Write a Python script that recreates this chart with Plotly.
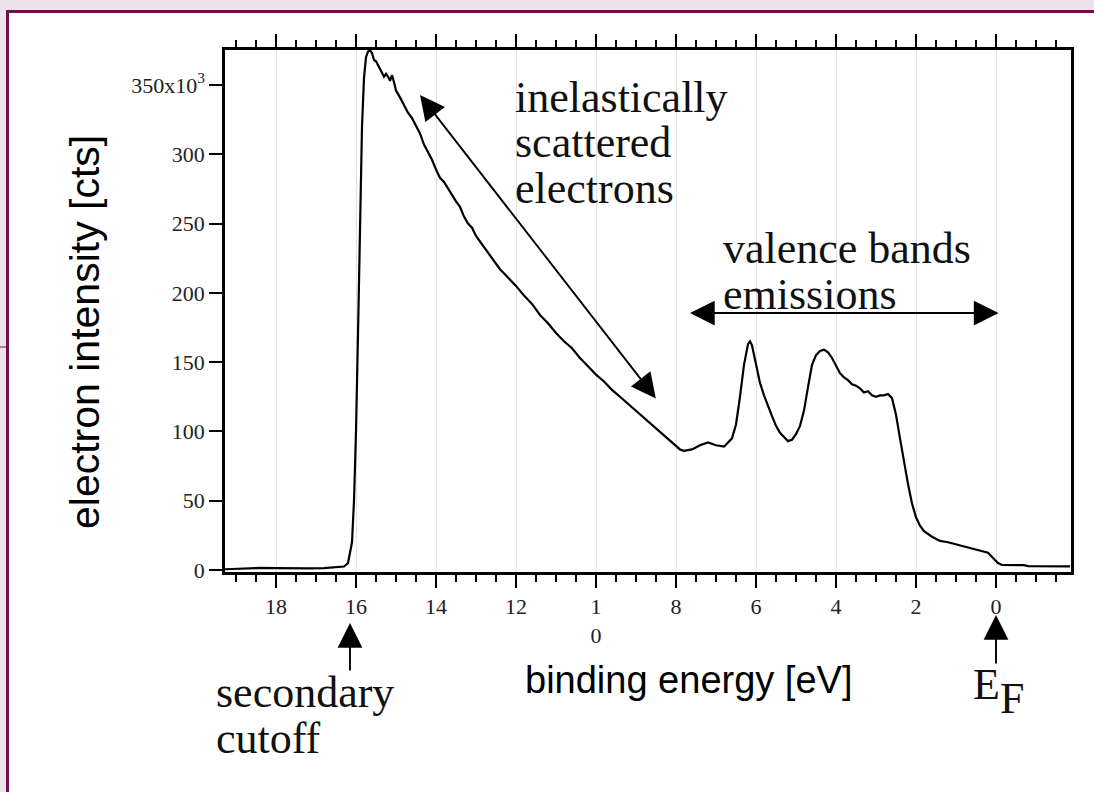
import plotly.graph_objects as go

# ---- data: binding energy [eV] and electron intensity [x10^3 cts] ----
energy = [19.3, 19.0, 18.7, 18.4, 18.0, 17.6, 17.2, 16.8, 16.5, 16.3, 16.2, 16.1, 16.05, 16.0,
          15.95, 15.9, 15.85, 15.8, 15.75, 15.7, 15.65, 15.6, 15.55, 15.5, 15.45, 15.4, 15.35,
          15.3, 15.25, 15.2, 15.15, 15.1, 15.05, 15.0, 14.9, 14.8, 14.7, 14.6, 14.5, 14.4, 14.3,
          14.2, 14.1, 14.0, 13.9, 13.8, 13.7, 13.6, 13.5, 13.4, 13.3, 13.2, 13.1, 13.0, 12.8,
          12.6, 12.4, 12.2, 12.0, 11.8, 11.6, 11.4, 11.2, 11.0, 10.8, 10.6, 10.4, 10.2, 10.0,
          9.8, 9.6, 9.4, 9.2, 9.0, 8.8, 8.6, 8.4, 8.2, 8.0, 7.9, 7.8, 7.6, 7.4, 7.2, 7.0, 6.8,
          6.6, 6.5, 6.4, 6.3, 6.2, 6.15, 6.1, 6.0, 5.9, 5.8, 5.7, 5.6, 5.5, 5.4, 5.3, 5.2, 5.1,
          5.0, 4.9, 4.8, 4.7, 4.6, 4.5, 4.4, 4.3, 4.2, 4.1, 4.0, 3.9, 3.8, 3.7, 3.6, 3.5, 3.4,
          3.3, 3.2, 3.1, 3.0, 2.9, 2.8, 2.7, 2.6, 2.5, 2.4, 2.3, 2.2, 2.1, 2.0, 1.9, 1.8, 1.6,
          1.4, 1.2, 1.0, 0.8, 0.6, 0.4, 0.2, 0.05, -0.05, -0.15, -0.4, -0.7, -0.8, -1.2, -1.6,
          -1.85]
intensity = [0.5, 0.8, 1.2, 1.5, 1.3, 1.0, 1.2, 1.4, 1.8, 2.5, 5, 20, 50, 100,
             170, 250, 320, 355, 370, 374, 375, 373, 368, 367, 364, 362, 359,
             356, 358, 356, 353, 357, 352, 346, 341, 335, 330, 326, 320, 315, 307,
             302, 296, 289, 283, 280, 275, 271, 266, 262, 255, 250, 247, 241, 233,
             225, 217, 211, 205, 198, 192, 184, 178, 171, 165, 160, 153, 147, 141,
             136, 130, 125, 120, 115, 110, 105, 100, 95, 90, 87, 86, 87, 90, 92, 90, 89,
             95, 105, 125, 148, 163, 165, 162, 148, 135, 126, 118, 111, 104, 99, 96, 93, 94,
             98, 104, 115, 132, 148, 155, 158, 159, 157, 153, 147, 142, 139, 137, 134, 133, 131,
             128, 129, 126, 125, 126, 126, 127, 124, 112, 95, 78, 62, 48, 38, 32, 28, 24,
             21, 20, 18.5, 17, 16, 14.5, 12.5, 8, 5, 3.6, 3.5, 3.5, 2.8, 2.7, 2.6,
             2.6]

x_tickvals = [18, 16, 14, 12, 10, 8, 6, 4, 2, 0]
x_ticktext = ["18", "16", "14", "12", "1<br>0", "8", "6", "4", "2", "0"]
y_tickvals = [0, 50, 100, 150, 200, 250, 300, 350]
y_ticktext = ["0", "50", "100", "150", "200", "250", "300", "350x10<sup>3</sup>"]

W, H = 1094, 792
L, R, T, B = 225, 23, 50, 220
PW, PH = W - L - R, H - T - B


def px(xp):
    return (xp - L) / PW


def py(yp):
    return (H - B - yp) / PH


SERIF = "Liberation Serif"
SANS = "Liberation Sans"

fig = go.Figure()
fig.add_trace(go.Scatter(x=energy, y=intensity, mode="lines",
                         line=dict(color="black", width=2.2), showlegend=False,
                         hoverinfo="skip"))

fig.update_layout(
    width=W, height=H,
    margin=dict(l=L, r=R, t=T, b=B),
    paper_bgcolor="#EEE3EA",
    plot_bgcolor="white",
    showlegend=False,
)

fig.update_xaxes(
    range=[19.275, -1.875], tickmode="array", tickvals=x_tickvals, ticktext=x_ticktext,
    ticks="outside", ticklen=13, tickwidth=2, tickcolor="black",
    showline=True, linewidth=2.5, linecolor="black", mirror="ticks",
    showgrid=True, gridcolor="#e2e2e2", gridwidth=1, zeroline=False,
    tickfont=dict(family=SERIF, size=22, color="#222"),
    minor=dict(tickmode="linear", tick0=0, dtick=0.5, ticklen=7, tickwidth=2,
               tickcolor="black", showgrid=False),
)
fig.update_yaxes(
    range=[-1.44, 375.2], tickmode="array", tickvals=y_tickvals, ticktext=y_ticktext,
    ticks="outside", ticklen=13, tickwidth=2, tickcolor="black",
    showline=True, linewidth=2.5, linecolor="black", mirror=True,
    showgrid=False, zeroline=False,
    tickfont=dict(family=SERIF, size=22, color="#222"),
)

# page frame
shapes = [
    dict(type="rect", xref="paper", yref="paper", x0=px(7.5), x1=px(1110), y0=py(810), y1=py(11.5),
         line=dict(color="#6E1052", width=3), fillcolor="white", layer="below"),
    dict(type="line", xref="paper", yref="paper", x0=px(0), x1=px(6), y0=py(347), y1=py(347),
         line=dict(color="#6E1052", width=1), layer="below"),
]
fig.update_layout(shapes=shapes)

ann = []
# axis titles
ann.append(dict(text="binding energy [eV]", xref="paper", yref="paper", x=px(688), y=py(680),
                xanchor="center", yanchor="middle", showarrow=False,
                font=dict(family=SANS, size=38, color="black")))
ann.append(dict(text="electron intensity [cts]", xref="paper", yref="paper", x=px(85), y=py(332),
                xanchor="center", yanchor="middle", showarrow=False, textangle=-90,
                font=dict(family=SANS, size=41, color="black")))


def label(t, xl, yc):
    ann.append(dict(text=t, xref="paper", yref="paper", x=px(xl), y=py(yc),
                    xanchor="left", yanchor="middle", showarrow=False, borderpad=0,
                    font=dict(family=SERIF, size=44, color="#111")))


label("inelastically", 514, 97)
label("scattered", 514, 142)
label("electrons", 514, 188)
label("valence bands", 722, 248)
label("emissions", 722, 294)
label("secondary", 215, 692)
label("cutoff", 215, 738)
label("E", 972, 684)
label("F", 999, 698)

# arrows
arrow_style = dict(showarrow=True, text="", arrowhead=2, arrowsize=2.6, arrowwidth=1.9,
                   arrowcolor="black")
# diagonal double arrow
ann.append(dict(x=14.4, y=342.7, xref="x", yref="y", ax=8.475, ay=122.7, axref="x", ayref="y",
                arrowside="end+start", **arrow_style))
# horizontal double arrow
ann.append(dict(x=7.65, y=185.4, xref="x", yref="y", ax=-0.1, ay=185.4, axref="x", ayref="y",
                arrowside="end+start", **arrow_style))
# secondary cutoff arrow
ann.append(dict(x=px(350), y=py(623), xref="paper", yref="paper", ax=0, ay=49, **arrow_style))
# Fermi edge arrow
ann.append(dict(x=px(996), y=py(615), xref="paper", yref="paper", ax=0, ay=50, **arrow_style))

fig.update_layout(annotations=ann)

fig.write_html("out.html")
